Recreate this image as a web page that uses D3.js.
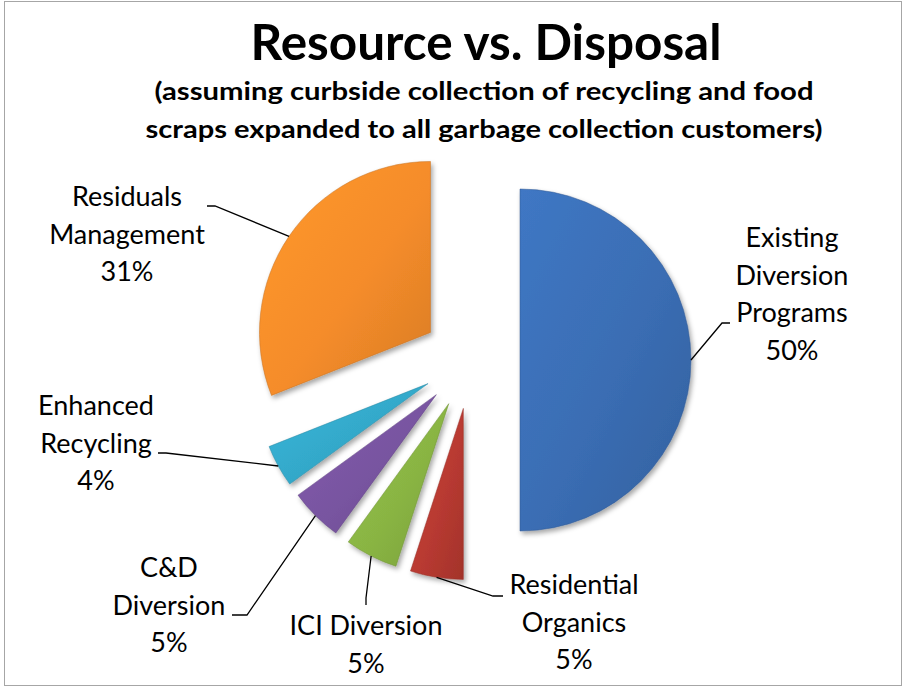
<!DOCTYPE html>
<html><head><meta charset="utf-8">
<script src="https://cdn.jsdelivr.net/npm/d3@7"></script>
<style>html,body{margin:0;padding:0;background:#fff;}svg{display:block;}</style>
</head><body>
<svg id="chart" width="903" height="687"></svg>
<script>
// ---- data ----
const categories = ["Existing Diversion Programs", "Residential Organics", "ICI Diversion", "C&D Diversion", "Enhanced Recycling", "Residuals Management"];
const values = [50, 5, 5, 5, 4, 31];
const labelLines = [["Existing", "Diversion", "Programs"], ["Residential", "Organics"], ["ICI Diversion"], ["C&D", "Diversion"], ["Enhanced", "Recycling"], ["Residuals", "Management"]];
const sliceColors = ["#3a6db3", "#b93a31", "#89b443", "#7854a0", "#33a8c9", "#f58c2a"];
const titleText = "Resource vs. Disposal";
const subtitleLines = ["(assuming curbside collection of recycling and food", "scraps expanded to all garbage collection customers)"];

// ---- layout (positions only) ----
const W = 903, H = 687;
const cx = 471, cy = 360, R = 171, EXPLODE = 49;
// label centre x, first baseline y, knee and end point of leader line
const labelLayout = [
  {x: 792, y: 247, knee: [722, 323], end: [730, 323]},
  {x: 574, y: 594, knee: [493, 596], end: [503, 596]},
  {x: 366, y: 635, knee: [366, 598], end: [366, 605]},
  {x: 169, y: 577, knee: [247, 615], end: [232, 615]},
  {x: 96,  y: 415, knee: [166, 453], end: [158, 453]},
  {x: 127, y: 206, knee: [215, 206], end: [207, 206]}
];
const LINE_H = 37.5;

const svg = d3.select("#chart");
const defs = svg.append("defs");

// border
svg.append("rect").attr("x", 4.5).attr("y", 1.5).attr("width", W - 6).attr("height", H - 3)
  .attr("fill", "#fff").attr("stroke", "#a6a6a6").attr("stroke-width", 1);

// shadow filter
const f = defs.append("filter").attr("id", "shadow").attr("x", "-20%").attr("y", "-20%").attr("width", "140%").attr("height", "140%");
f.append("feDropShadow").attr("dx", 2).attr("dy", 3).attr("stdDeviation", 2.5)
  .attr("flood-color", "#000").attr("flood-opacity", 0.35);

sliceColors.forEach((c, i) => {
  const g = defs.append("linearGradient").attr("id", "grad" + i)
    .attr("x1", 0).attr("y1", 0).attr("x2", 1).attr("y2", 1);
  g.append("stop").attr("offset", "0%").attr("stop-color", d3.color(c).brighter(0.25));
  g.append("stop").attr("offset", "55%").attr("stop-color", c);
  g.append("stop").attr("offset", "100%").attr("stop-color", d3.color(c).darker(0.35));
});

// title
svg.append("text").attr("x", 486).attr("y", 60).attr("text-anchor", "middle")
  .attr("font-family", "Lato, 'Open Sans', sans-serif").attr("font-weight", 700)
  .attr("font-size", 50).attr("textLength", 471).attr("lengthAdjust", "spacingAndGlyphs")
  .attr("fill", "#000").text(titleText);
const subWidths = [659, 677];
subtitleLines.forEach((t, i) => {
  svg.append("text").attr("x", 484).attr("y", 100 + i * 38).attr("text-anchor", "middle")
    .attr("font-family", "Lato, 'Open Sans', sans-serif").attr("font-weight", 700)
    .attr("font-size", 25).attr("textLength", subWidths[i]).attr("lengthAdjust", "spacingAndGlyphs")
    .attr("fill", "#000").text(t);
});

// pie
const pie = d3.pie().sort(null).value(d => d)(values);
const arc = d3.arc().innerRadius(0).outerRadius(R);
const fmt = d3.format(".0%");
const total = d3.sum(values);

const slices = svg.append("g");
pie.forEach((d, i) => {
  const mid = (d.startAngle + d.endAngle) / 2;
  const ox = cx + EXPLODE * Math.sin(mid), oy = cy - EXPLODE * Math.cos(mid);
  slices.append("path")
    .attr("transform", `translate(${ox},${oy})`)
    .attr("d", arc(d))
    .attr("fill", `url(#grad${i})`)
    .attr("stroke", d3.color(sliceColors[i]).darker(0.6))
    .attr("stroke-opacity", 0.5)
    .attr("stroke-width", 1)
    .attr("filter", "url(#shadow)");
});

// leader lines and labels
const labels = svg.append("g").attr("font-family", "Lato, 'Open Sans', sans-serif").attr("font-size", 27).attr("fill", "#000");
pie.forEach((d, i) => {
  const mid = (d.startAngle + d.endAngle) / 2;
  const ox = cx + EXPLODE * Math.sin(mid), oy = cy - EXPLODE * Math.cos(mid);
  const px = ox + R * Math.sin(mid), py = oy - R * Math.cos(mid);
  const L = labelLayout[i];
  svg.append("path")
    .attr("d", d3.line()([[px, py], L.knee, L.end]))
    .attr("fill", "none").attr("stroke", "#000").attr("stroke-width", 1.3);
  const lines = labelLines[i].concat([fmt(values[i] / total)]);
  const t = labels.append("text").attr("text-anchor", "middle");
  lines.forEach((s, k) => {
    t.append("tspan").attr("x", L.x).attr("y", L.y + k * LINE_H).text(s);
  });
});
</script>
</body></html>
